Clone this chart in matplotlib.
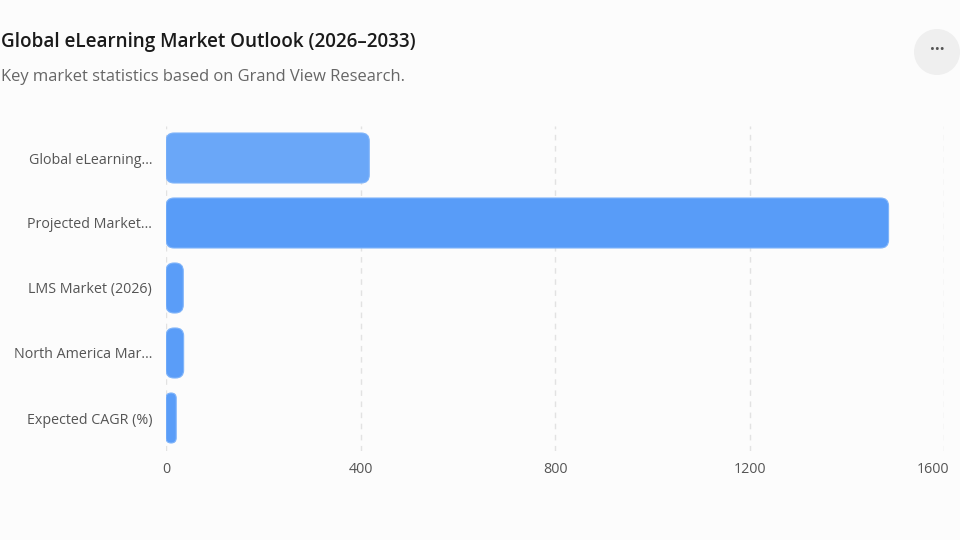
import matplotlib
matplotlib.use("Agg")
import matplotlib.pyplot as plt
import matplotlib.transforms as mtransforms
from matplotlib.patches import FancyBboxPatch, Circle

categories = ["Global eLearning…", "Projected Market…", "LMS Market (2026)",
              "North America Mar…", "Expected CAGR (%)"]
values = [418, 1486, 35.5, 36.3, 21]
bar_colors = ["#6aa7f8", "#589cf8", "#5a9df8", "#5a9df8", "#5a9df8"]
xticks = [0, 400, 800, 1200, 1600]
title = "Global eLearning Market Outlook (2026–2033)"
subtitle = "Key market statistics based on Grand View Research."

plt.rcParams['font.family'] = ['Open Sans', 'DejaVu Sans']
W, H = 960, 540
fig = plt.figure(figsize=(9.6, 5.4), dpi=100)
fig.patch.set_facecolor("#fcfcfc")

L, R, T, B = 166, 944, 125.5, 450.5
ax = fig.add_axes([L / W, 1 - B / H, (R - L) / W, (B - T) / H])
ax.set_facecolor("#fcfcfc")
ax.set_xlim(0, 1600)
n = len(categories)
ax.set_ylim(n - 0.5, -0.5)

px_per_x = (R - L) / 1600.0
px_per_y = (B - T) / n
bar_h = 50 / px_per_y
aspect = (1 / px_per_y) / (1 / px_per_x)

for i, (v, c) in enumerate(zip(values, bar_colors)):
    r = min(8 / px_per_x, v / 2)
    p = FancyBboxPatch((0, i - bar_h / 2), v, bar_h,
                       boxstyle=f"round,pad=0,rounding_size={r}",
                       mutation_aspect=aspect,
                       facecolor=c, edgecolor="#7fb4fa", linewidth=0.8, zorder=3)
    ax.add_patch(p)

ax.set_xticks(xticks)
ax.set_xticklabels([str(t) for t in xticks])
ax.set_yticks(range(n))
ax.set_yticklabels(categories)
ax.grid(axis="x", linestyle=(0, (4, 4)), color="#e2e2e2", linewidth=1, zorder=0)
ax.set_axisbelow(True)
for s in ax.spines.values():
    s.set_visible(False)
ax.tick_params(axis="both", length=0, labelsize=10.3, labelcolor="#555555")
ax.tick_params(axis="x", pad=8)
ax.tick_params(axis="y", pad=10)

last = ax.get_xticklabels()[-1]
last.set_transform(last.get_transform() +
                   mtransforms.ScaledTranslation(-0.11, 0, fig.dpi_scale_trans))

fig.text(1 / W, 1 - 42 / H, title, fontsize=13.6, fontweight="semibold",
         color="#1a1a1a", va="center", ha="left")
fig.text(1 / W, 1 - 77 / H, subtitle, fontsize=11.9, color="#666666",
         va="center", ha="left")

# menu button
circ = Circle((9.37, 5.4 - 0.52), 0.23, transform=fig.dpi_scale_trans,
              facecolor="#efefef", edgecolor="none")
fig.patches.append(circ)
fig.text(937 / W, 1 - 50 / H, "···", fontsize=12, color="#555555",
         ha="center", va="center", fontweight="bold")

fig.savefig("out.png", dpi=100, facecolor=fig.get_facecolor())
